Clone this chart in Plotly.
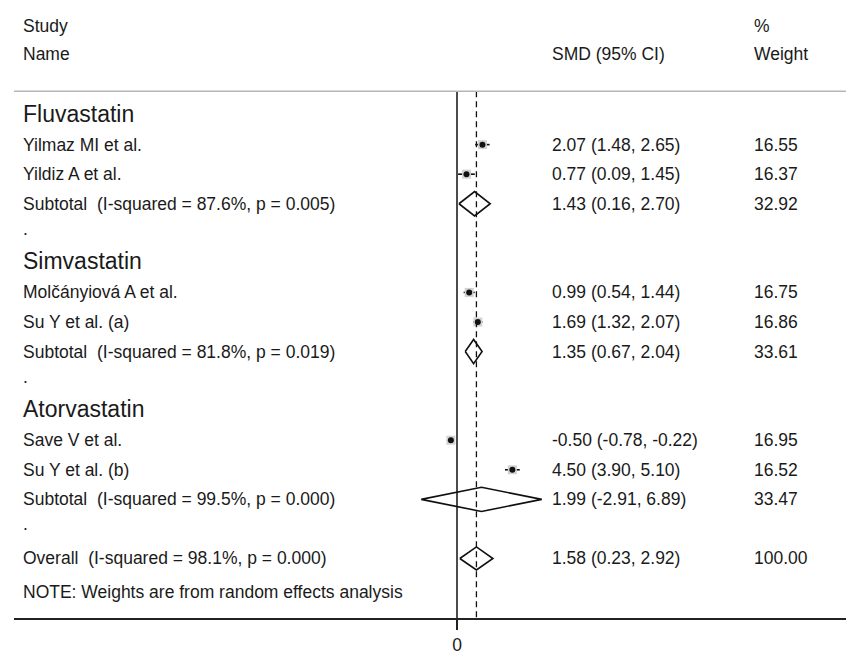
import plotly.graph_objects as go

# ---- data ---------------------------------------------------------------
groups = ["Fluvastatin", "Simvastatin", "Atorvastatin"]
study_names = [
    ["Yilmaz MI et al.", "Yildiz A et al."],
    ["Molčányiová A et al.", "Su Y et al. (a)"],
    ["Save V et al.", "Su Y et al. (b)"],
]
study_smd = [[2.07, 0.77], [0.99, 1.69], [-0.50, 4.50]]
study_lo = [[1.48, 0.09], [0.54, 1.32], [-0.78, 3.90]]
study_hi = [[2.65, 1.45], [1.44, 2.07], [-0.22, 5.10]]
study_wt = [[16.55, 16.37], [16.75, 16.86], [16.95, 16.52]]

sub_labels = [
    "Subtotal  (I-squared = 87.6%, p = 0.005)",
    "Subtotal  (I-squared = 81.8%, p = 0.019)",
    "Subtotal  (I-squared = 99.5%, p = 0.000)",
]
sub_smd = [1.43, 1.35, 1.99]
sub_lo = [0.16, 0.67, -2.91]
sub_hi = [2.70, 2.04, 6.89]
sub_wt = [32.92, 33.61, 33.47]

overall_label = "Overall  (I-squared = 98.1%, p = 0.000)"
overall_smd, overall_lo, overall_hi, overall_wt = 1.58, 0.23, 2.92, 100.00
note = "NOTE: Weights are from random effects analysis"

# ---- layout constants ---------------------------------------------------
W, H = 846, 655
FONT = "Liberation Sans, Arial, sans-serif"
TXT = "#1a1a1a"
FS = 17.5
HFS = 23
PX_PER_UNIT = 12.3
ZERO_PX = 457
LEFT_PX = 14
ROW0_PX, ROW_H = 116, 29.8
AXIS_PX = 623

x_min = -(ZERO_PX - LEFT_PX) / PX_PER_UNIT
x_max = (W - ZERO_PX) / PX_PER_UNIT
y_top = -ROW0_PX / ROW_H
y_bot = (AXIS_PX - ROW0_PX) / ROW_H
sep_row = (92 - ROW0_PX) / ROW_H
x_col_name, x_col_ci, x_col_wt = 21 / W, 550 / W, 752 / W

fig = go.Figure()
ann = []


def text(x, y, s, size=FS):
    ann.append(dict(x=x, y=y, xref="paper", yref="y", text=s, showarrow=False,
                    xanchor="left", yanchor="middle",
                    font=dict(family=FONT, size=size, color=TXT)))


def ci_str(e, lo, hi):
    return f"{e:.2f} ({lo:.2f}, {hi:.2f})"


def diamond(row, e, lo, hi, h=0.41):
    fig.add_trace(go.Scatter(
        x=[lo, e, hi, e, lo], y=[row, row - h, row, row + h, row],
        mode="lines", fill="toself", fillcolor="white",
        line=dict(color="#111", width=1.6), hoverinfo="skip", showlegend=False))


# header
text(x_col_name, -3.03, "Study")
text(x_col_name, -2.05, "Name")
text(x_col_ci, -2.05, "SMD (95% CI)")
text(x_col_wt, -3.03, "%")
text(x_col_wt, -2.05, "Weight")

pt_x, pt_y, ci_x, ci_y = [], [], [], []
diamonds = []
row = 0
for g, names, es, los, his, wts, sl, se, slo, shi, sw in zip(
        groups, study_names, study_smd, study_lo, study_hi, study_wt,
        sub_labels, sub_smd, sub_lo, sub_hi, sub_wt):
    text(x_col_name, row - 0.05, g, HFS)
    row += 1
    for n, e, lo, hi, w in zip(names, es, los, his, wts):
        text(x_col_name, row, n)
        text(x_col_ci, row, ci_str(e, lo, hi))
        text(x_col_wt, row, f"{w:.2f}")
        pt_x.append(e)
        pt_y.append(row)
        ci_x += [lo, hi, None]
        ci_y += [row, row, None]
        row += 1
    text(x_col_name, row, sl)
    text(x_col_ci, row, ci_str(se, slo, shi))
    text(x_col_wt, row, f"{sw:.2f}")
    diamonds.append((row, se, slo, shi))
    row += 1
    text(x_col_name, row - 0.15, ".")  # spacer row
    row += 1

# overall pooled estimate
text(x_col_name, row, overall_label)
text(x_col_ci, row, ci_str(overall_smd, overall_lo, overall_hi))
text(x_col_wt, row, f"{overall_wt:.2f}")
diamonds.append((row, overall_smd, overall_lo, overall_hi))
overall_row = row
row += 1
text(x_col_name, row + 0.12, note)

# reference lines
fig.add_shape(type="line", xref="x", yref="y", x0=0, x1=0, y0=sep_row, y1=y_bot,
              line=dict(color="#111", width=1.5))
fig.add_shape(type="line", xref="x", yref="y", x0=overall_smd, x1=overall_smd,
              y0=sep_row, y1=y_bot, line=dict(color="#111", width=1.3, dash="6px,4px"))
fig.add_shape(type="line", xref="paper", yref="y", x0=LEFT_PX / W, x1=1,
              y0=sep_row, y1=sep_row, line=dict(color="#b5b5b5", width=1.5))

# confidence intervals and point estimates
fig.add_trace(go.Scatter(x=ci_x, y=ci_y, mode="lines",
                         line=dict(color="#111", width=1.6),
                         hoverinfo="skip", showlegend=False))
fig.add_trace(go.Scatter(x=pt_x, y=pt_y, mode="markers",
                         marker=dict(symbol="square", size=9, color="#d2d2d2",
                                     line=dict(width=0)),
                         hoverinfo="skip", showlegend=False))
fig.add_trace(go.Scatter(x=pt_x, y=pt_y, mode="markers",
                         marker=dict(symbol="circle", size=6, color="#111"),
                         hoverinfo="skip", showlegend=False))

# pooled estimates
for r, e, lo, hi in diamonds:
    diamond(r, e, lo, hi, 0.41 if r != overall_row else 0.39)

fig.update_layout(
    width=W, height=H,
    margin=dict(l=0, r=0, t=0, b=H - AXIS_PX),
    plot_bgcolor="white", paper_bgcolor="white",
    annotations=ann,
    xaxis=dict(domain=[LEFT_PX / W, 1], range=[x_min, x_max], showgrid=False,
               zeroline=False, showline=True, linecolor="#222", linewidth=2,
               tickvals=[0], ticktext=["0"], ticks="outside", ticklen=10,
               tickwidth=1.5, tickcolor="#222",
               tickfont=dict(family=FONT, size=FS, color=TXT)),
    yaxis=dict(range=[y_bot, y_top], showgrid=False, zeroline=False,
               showline=False, showticklabels=False, ticks=""),
)

fig.write_html("out.html")
